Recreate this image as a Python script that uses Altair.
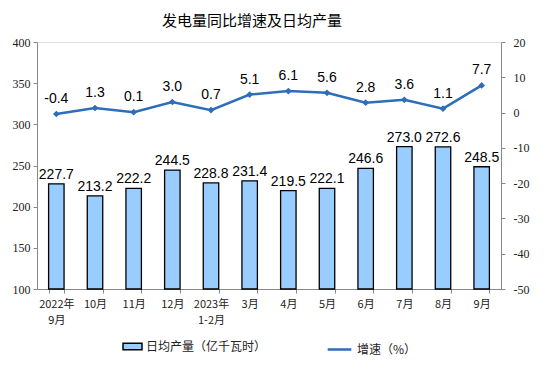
import altair as alt
import pandas as pd

months = ["2022年\n9月", "10月", "11月", "12月", "2023年\n1-2月", "3月", "4月",
          "5月", "6月", "7月", "8月", "9月"]
daily_output = [227.7, 213.2, 222.2, 244.5, 228.8, 231.4, 219.5, 222.1, 246.6, 273.0, 272.6, 248.5]
growth = [-0.4, 1.3, 0.1, 3.0, 0.7, 5.1, 6.1, 5.6, 2.8, 3.6, 1.1, 7.7]
bar_name = "日均产量（亿千瓦时）"
line_name = "增速（%）"

df = pd.DataFrame({
    "month": months,
    "output": daily_output,
    "growth": growth,
    "output_label": [f"{v:.1f}" for v in daily_output],
    "growth_label": [f"{v:.1f}" for v in growth],
    "bar_series": bar_name,
    "line_series": line_name,
})

x = alt.X("month:N", sort=months, title=None,
          scale=alt.Scale(paddingInner=0.6, paddingOuter=0.3),
          axis=alt.Axis(labelExpr="split(datum.label, '\\n')", labelAngle=0,
                        labelFont="Noto Sans CJK SC", labelFontSize=11, labelColor="#222",
                        domainColor="#888", tickColor="#888", tickSize=4,
                        tickBand="extent", labelPadding=5, labelLineHeight=16))

yl_scale = alt.Scale(domain=[100, 400], nice=False, zero=False)
yr_scale = alt.Scale(domain=[-50, 20], nice=False, zero=False)

bars = alt.Chart(df).mark_bar(stroke="#000", strokeWidth=1.3, fill="#99CCFF").encode(
    x=x,
    y=alt.Y("output:Q", title=None, scale=yl_scale,
            axis=alt.Axis(values=[100, 150, 200, 250, 300, 350, 400], grid=False,
                          labelFont="Liberation Serif", labelFontSize=12, labelColor="#222",
                          domainColor="#888", tickColor="#888", tickSize=4, labelPadding=3)),
    y2=alt.datum(100),
    fill=alt.Fill("bar_series:N", title=None,
                  scale=alt.Scale(domain=[bar_name], range=["#99CCFF"]),
                  legend=alt.Legend(orient="none", legendX=85, legendY=294,
                                    symbolType="M-1,-0.35H1V0.35H-1Z", symbolSize=360,
                                    symbolStrokeColor="#000", symbolStrokeWidth=1.5,
                                    labelFont="Noto Sans CJK SC", labelFontSize=12,
                                    labelColor="#222", labelOffset=3)),
)

bar_text = alt.Chart(df).mark_text(baseline="bottom", dy=-2, font="Liberation Sans",
                                   fontSize=14, color="#000").encode(
    x=alt.X("month:N", sort=months),
    y=alt.Y("output:Q", scale=yl_scale),
    text=alt.Text("output_label:N"),
)

yr = alt.Y("growth:Q", title=None, scale=yr_scale,
           axis=alt.Axis(orient="right", values=[-50, -40, -30, -20, -10, 0, 10, 20], grid=False,
                         labelExpr="toString(datum.value)",
                         labelFont="Liberation Serif", labelFontSize=12, labelColor="#222",
                         domainColor="#888", tickColor="#888", tickSize=4, labelPadding=8))

line = alt.Chart(df).mark_line(strokeWidth=2.5).encode(
    x=alt.X("month:N", sort=months),
    y=yr,
    stroke=alt.Stroke("line_series:N", title=None,
                      scale=alt.Scale(domain=[line_name], range=["#2E6DB8"]),
                      legend=alt.Legend(orient="none", legendX=289, legendY=294,
                                        symbolType="stroke", symbolSize=560,
                                        symbolStrokeWidth=2.5,
                                        labelFont="Noto Sans CJK SC", labelFontSize=12,
                                        labelColor="#222")),
)

points = alt.Chart(df).mark_point(shape="diamond", filled=True, size=45, color="#2E6DB8",
                                  opacity=1).encode(
    x=alt.X("month:N", sort=months),
    y=yr,
)

line_text = alt.Chart(df).mark_text(baseline="bottom", dy=-8, font="Liberation Sans",
                                    fontSize=14, color="#000").encode(
    x=alt.X("month:N", sort=months),
    y=yr,
    text=alt.Text("growth_label:N"),
)

left = alt.layer(bars, bar_text)
right = alt.layer(line, points, line_text)

chart = alt.layer(left, right).resolve_scale(y="independent").properties(
    width=464, height=247,
    autosize=alt.AutoSizeParams(type="none"),
    padding={"left": 29, "top": 34, "right": 45, "bottom": 90},
    title=alt.TitleParams("发电量同比增速及日均产量", font="Noto Sans CJK SC", fontSize=15,
                          fontWeight="normal", color="#000", anchor="middle", dx=-17,
                          offset=7),
).configure_view(stroke=None).configure(background="white")

chart.save("out.html", embed_options={"renderer": "svg", "actions": False})
